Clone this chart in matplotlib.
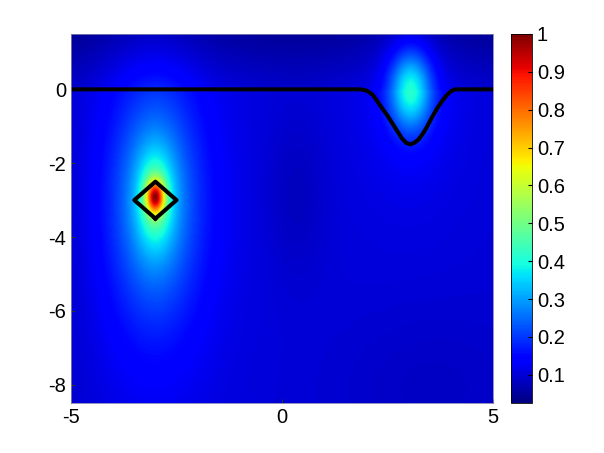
import numpy as np
import matplotlib
matplotlib.use("Agg")
import matplotlib.pyplot as plt

plt.rcParams['font.family'] = ['Liberation Sans', 'DejaVu Sans']
plt.rcParams['axes.unicode_minus'] = False

# domain
x_range = [-5.0, 5.0]
y_range = [-8.5, 1.5]

# Lorentzian parts of the two peaks: x, y, amplitude, half widths
lor_x = [-3.0, 3.05]
lor_y = [-2.95, 0.0]
lor_amp = [0.35, 0.10]
lor_ax = [0.42, 0.60]
lor_ay = [1.25, 1.40]

# Gaussian parts (sharp cores and broad halos): x, y, amplitude, sigmas
gau_x = [-3.0, -3.0, 3.05]
gau_y = [-2.9, -3.2, 0.0]
gau_amp = [0.45, 0.10, 0.22]
gau_sx = [0.15, 0.85, 0.35]
gau_sy = [0.30, 2.60, 0.75]

# background level below the surface, at the surface and at the top edge
bg_below = 0.095
bg_surface = 0.085
bg_top = 0.04
# darker patches: x, y, depth, sx, sy
dark_x = [0.35, 3.5, -5.0]
dark_y = [-2.8, -8.0, -4.0]
dark_amp = [0.025, 0.015, 0.015]
dark_sx = [0.5, 1.5, 0.5]
dark_sy = [1.6, 1.5, 4.0]

# surface profile (black line)
surf_x = [-5.0, 1.85, 2.0, 2.15, 2.32, 2.5, 2.64, 2.75, 2.84, 2.94, 3.03, 3.13,
          3.23, 3.33, 3.43, 3.55, 3.67, 3.8, 3.9, 4.0, 4.1, 5.0]
surf_y = [0.0, 0.0, -0.03, -0.15, -0.43, -0.72, -0.97, -1.17, -1.33, -1.45, -1.49,
          -1.45, -1.36, -1.21, -1.02, -0.76, -0.52, -0.3, -0.16, -0.05, 0.0, 0.0]

# scatterer (diamond)
diam_x = [-3.0, -2.5, -3.0, -3.5, -3.0]
diam_y = [-3.5, -3.0, -2.5, -3.0, -3.5]

cb_ticks = [0.1, 0.2, 0.3, 0.4, 0.5, 0.6, 0.7, 0.8, 0.9, 1]
cb_labels = ['0.1', '0.2', '0.3', '0.4', '0.5', '0.6', '0.7', '0.8', '0.9', '1']
vmin, vmax = 0.025, 1.0

xs = np.linspace(*x_range, 401)
ys = np.linspace(*y_range, 401)
X, Y = np.meshgrid(xs, ys)

F = np.where(Y < 0, bg_below,
             bg_surface - (bg_surface - bg_top) * np.clip(Y / y_range[1], 0, 1))
for px, py, a, ax_, ay_ in zip(lor_x, lor_y, lor_amp, lor_ax, lor_ay):
    F = F + a / (1 + ((X - px) / ax_) ** 2 + ((Y - py) / ay_) ** 2)
for px, py, a, sx, sy in zip(gau_x, gau_y, gau_amp, gau_sx, gau_sy):
    F = F + a * np.exp(-((X - px) ** 2 / (2 * sx ** 2) + (Y - py) ** 2 / (2 * sy ** 2)))
for dx, dy, a, sx, sy in zip(dark_x, dark_y, dark_amp, dark_sx, dark_sy):
    F = F - a * np.exp(-((X - dx) ** 2 / (2 * sx ** 2) + (Y - dy) ** 2 / (2 * sy ** 2)))
F = np.clip(F, vmin, vmax)

fig = plt.figure(figsize=(6.04, 4.53), dpi=100)
ax = fig.add_axes([0.1175, 0.110, 0.699, 0.815])
cax = fig.add_axes([0.846, 0.110, 0.035, 0.815])

mesh = ax.pcolormesh(X, Y, F, cmap='jet', vmin=vmin, vmax=vmax, shading='gouraud')
ax.plot(surf_x, surf_y, color='black', lw=2.9, solid_joinstyle='round',
        solid_capstyle='butt', clip_on=False)
ax.plot(diam_x, diam_y, color='black', lw=2.9, solid_joinstyle='round')

ax.set_xlim(*x_range)
ax.set_ylim(*y_range)
ax.set_xticks([-5, 0, 5])
ax.set_yticks([-8, -6, -4, -2, 0])
ax.tick_params(direction='in', length=3, labelsize=14.5, color='#333333')
for s in ax.spines.values():
    s.set_color('#8080b0')
    s.set_linewidth(0.6)

cb = fig.colorbar(mesh, cax=cax)
cb.set_ticks(cb_ticks)
cb.set_ticklabels(cb_labels)
cb.ax.tick_params(direction='in', length=3, labelsize=14.5)
cb.outline.set_linewidth(0.6)

fig.savefig('out.png', dpi=100)
